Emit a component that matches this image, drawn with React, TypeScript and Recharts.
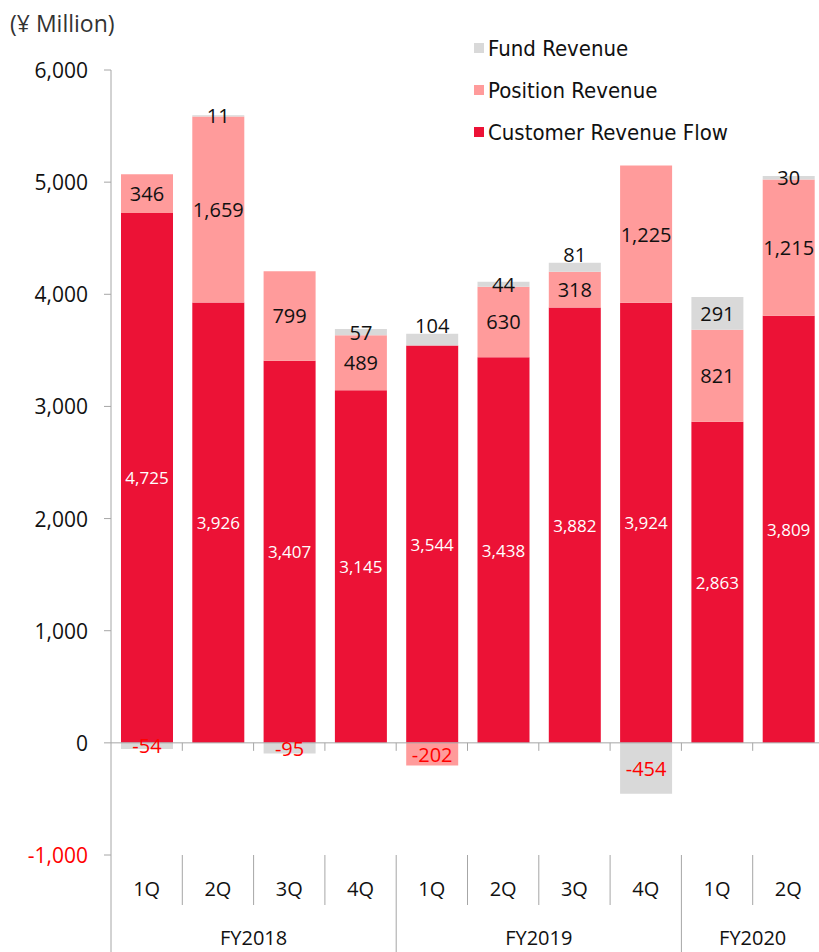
import React from 'react';
import { BarChart, Bar, XAxis, YAxis, ReferenceLine, LabelList, Legend } from 'recharts';

const fiscalYears = ['FY2018', 'FY2018', 'FY2018', 'FY2018', 'FY2019', 'FY2019', 'FY2019', 'FY2019', 'FY2020', 'FY2020'];
const quarters = ['1Q', '2Q', '3Q', '4Q', '1Q', '2Q', '3Q', '4Q', '1Q', '2Q'];
const customerRevenue = [4725, 3926, 3407, 3145, 3544, 3438, 3882, 3924, 2863, 3809];
const positionRevenue = [346, 1659, 799, 489, -202, 630, 318, 1225, 821, 1215];
const fundRevenue = [-54, 11, -95, 57, 104, 44, 81, -454, 291, 30];
const yTicks = [-1000, 0, 1000, 2000, 3000, 4000, 5000, 6000];
const legendOrder = ['Fund Revenue', 'Position Revenue', 'Customer Revenue Flow'];

const data = quarters.map((q, i) => ({
  key: `${fiscalYears[i]} ${q}`,
  quarter: q,
  fy: fiscalYears[i],
  customer: customerRevenue[i],
  position: positionRevenue[i],
  fund: fundRevenue[i],
}));

const W = 830;
const H = 952;
const TOP = 70;
const RIGHT = 6;
const YW = 111;
const XH = 97;
const PLOT_W = W - RIGHT - YW;
const PLOT_H = H - TOP - XH;
const PLOT_BOTTOM = TOP + PLOT_H;
const Y_MIN = -1000;
const Y_MAX = 6000;
const ZERO_Y = TOP + (PLOT_H * (Y_MAX - 0)) / (Y_MAX - Y_MIN);
const BAND = PLOT_W / data.length;

const RED = '#EC1236';
const PINK = '#FF9B9B';
const GREY = '#D9D9D9';
const AXIS = '#A6A6A6';
const FONT = "'Open Sans', sans-serif";
const LEGEND_FONT = "'DejaVu Sans Condensed', 'DejaVu Sans', sans-serif";

const fmt = (v: number) => v.toLocaleString('en-US');

const YTick = (props: any) => {
  const { x, y, payload } = props;
  const v = payload.value as number;
  return (
    <text x={x} y={y} textAnchor="end" dominantBaseline="central" fontFamily={FONT} fontSize={21} fill={v < 0 ? '#FF0000' : '#111'}>
      {fmt(v)}
    </text>
  );
};

const XTick = (props: any) => {
  const { x, payload } = props;
  const i: number = props.index ?? payload.index ?? 0;
  const d = data[i];
  const left = x - BAND / 2;
  const isYearStart = i === 0 || data[i - 1].fy !== d.fy;
  let fyLabel: React.ReactNode = null;
  if (isYearStart) {
    let n = 0;
    while (i + n < data.length && data[i + n].fy === d.fy) n++;
    fyLabel = (
      <text x={x + ((n - 1) * BAND) / 2} y={937} textAnchor="middle" dominantBaseline="central" fontFamily={FONT} fontSize={20} fill="#111">
        {d.fy}
      </text>
    );
  }
  return (
    <g>
      {i > 0 && <line x1={left} x2={left} y1={ZERO_Y} y2={ZERO_Y + 8} stroke={AXIS} strokeWidth={1} />}
      {i === 0 && <line x1={left} x2={left} y1={PLOT_BOTTOM} y2={H} stroke={AXIS} strokeWidth={1} />}
      {i > 0 && <line x1={left} x2={left} y1={PLOT_BOTTOM} y2={isYearStart ? H : 905} stroke={AXIS} strokeWidth={1} />}
      <text x={x} y={888} textAnchor="middle" dominantBaseline="central" fontFamily={FONT} fontSize={20} fill="#111">
        {d.quarter}
      </text>
      {fyLabel}
    </g>
  );
};

const makeLabel = (kind: 'customer' | 'position' | 'fund') => (props: any) => {
  const { x, y, width, height, value } = props;
  if (value == null) return null;
  const v = Number(value);
  const h = Number(height);
  const top = Math.min(y, y + h);
  let cy = y + h / 2;
  if (kind === 'fund' && v > 0 && Math.abs(h) >= 8 && Math.abs(h) < 20) cy = top - 8;
  const fill = v < 0 ? '#FF0000' : kind === 'customer' ? '#FFFFFF' : '#111';
  const size = kind === 'customer' ? 17 : 20;
  return (
    <text x={x + width / 2} y={cy} textAnchor="middle" dominantBaseline="central" fontFamily={FONT} fontSize={size} fill={fill}>
      {fmt(v)}
    </text>
  );
};

const LegendContent = (props: any) => {
  const items = [...(props.payload || [])].sort(
    (a: any, b: any) => legendOrder.indexOf(a.value) - legendOrder.indexOf(b.value)
  );
  return (
    <div>
      {items.map((it: any) => (
        <div key={it.value} style={{ display: 'flex', alignItems: 'center', height: 42, fontFamily: LEGEND_FONT, fontSize: 22, color: '#111', whiteSpace: 'nowrap' }}>
          <span style={{ display: 'inline-block', width: 10, height: 10, background: it.color, marginRight: 4 }} />
          {it.value}
        </div>
      ))}
    </div>
  );
};

export default function App() {
  return (
    <div style={{ position: 'absolute', left: 0, top: 0, width: 819, height: 952, overflow: 'hidden', background: '#fff' }}>
      <div style={{ position: 'absolute', left: 10, top: 7, fontFamily: FONT, fontSize: 23, color: '#333', whiteSpace: 'nowrap' }}>(¥ Million)</div>
      <BarChart width={W} height={H} data={data} stackOffset="sign" margin={{ top: TOP, right: RIGHT, bottom: 0, left: 0 }}>
        <XAxis dataKey="key" height={XH} axisLine={false} tickLine={false} interval={0} tick={<XTick />} />
        <YAxis
          width={YW}
          domain={[Y_MIN, Y_MAX]}
          ticks={yTicks}
          interval={0}
          allowDataOverflow
          axisLine={{ stroke: AXIS }}
          tickLine={{ stroke: AXIS }}
          tickSize={7}
          tickMargin={16}
          tick={<YTick />}
        />
        <ReferenceLine y={0} stroke={AXIS} strokeWidth={1} />
        <Legend
          layout="vertical"
          align="center"
          verticalAlign="middle"
          wrapperStyle={{ position: 'absolute', top: 27, left: 474, width: 340 }}
          content={<LegendContent />}
        />
        <Bar dataKey="customer" name="Customer Revenue Flow" stackId="a" fill={RED} barSize={52} isAnimationActive={false}>
          <LabelList dataKey="customer" content={makeLabel('customer')} />
        </Bar>
        <Bar dataKey="position" name="Position Revenue" stackId="a" fill={PINK} barSize={52} isAnimationActive={false}>
          <LabelList dataKey="position" content={makeLabel('position')} />
        </Bar>
        <Bar dataKey="fund" name="Fund Revenue" stackId="a" fill={GREY} barSize={52} isAnimationActive={false}>
          <LabelList dataKey="fund" content={makeLabel('fund')} />
        </Bar>
      </BarChart>
    </div>
  );
}
